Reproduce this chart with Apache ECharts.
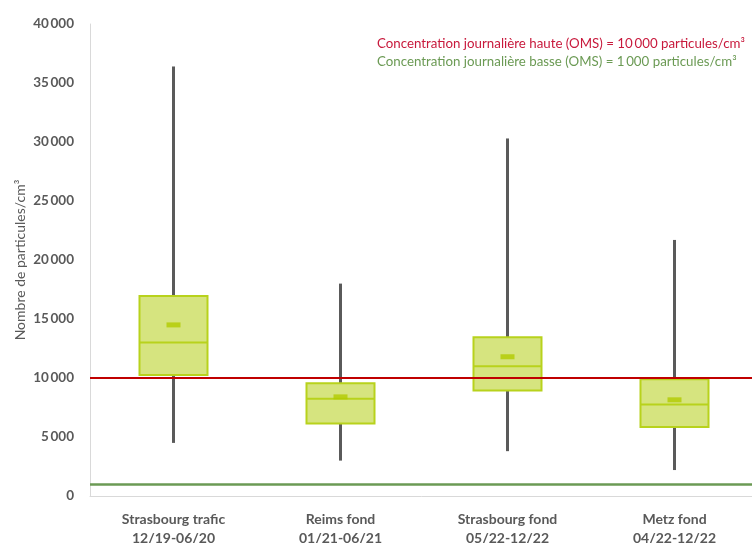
<!DOCTYPE html>
<html>
<head>
<meta charset="utf-8">
<script src="https://cdn.jsdelivr.net/npm/echarts@6/dist/echarts.min.js"></script>
<style>
  html, body { margin: 0; padding: 0; background: #fff; overflow: hidden; }
  #chart { width: 752px; height: 543px; }
</style>
</head>
<body>
<div id="chart"></div>
<script>
// Sites and measurement periods
const categories = [
  'Strasbourg trafic\n12/19-06/20',
  'Reims fond\n01/21-06/21',
  'Strasbourg fond\n05/22-12/22',
  'Metz fond\n04/22-12/22'
];
// Box statistics per site (particules/cm³)
const whiskerLow  = [4500, 3000, 3800, 2200];
const quartile1   = [10250, 6150, 8950, 5850];
const medians     = [13000, 8250, 11000, 7750];
const quartile3   = [16950, 9550, 13450, 9900];
const whiskerHigh = [36400, 18000, 30300, 21700];
const means       = [14500, 8400, 11800, 8150];
// WHO daily reference concentrations
const whoHigh = 10000;
const whoLow = 1000;
const yTicks = [0, 5000, 10000, 15000, 20000, 25000, 30000, 35000, 40000];

const FONT = 'Lato, "Open Sans", sans-serif';
const boxFill = '#d6e47f';
const boxLine = '#b8d21c';
const meanColor = '#b2cb00';
const whiskerColor = '#5a5a5a';

const boxRows = categories.map((c, i) => [i, whiskerLow[i], quartile1[i], medians[i], quartile3[i], whiskerHigh[i]]);

function fmt(v) {
  return String(v).replace(/\B(?=(\d{3})+(?!\d))/g, '\u2009');
}

const chart = echarts.init(document.getElementById('chart'), null, { renderer: 'canvas', width: 752, height: 543 });

chart.setOption({
  animation: false,
  backgroundColor: '#ffffff',
  textStyle: { fontFamily: FONT },
  grid: {
    left: 90, top: 24, width: 668, height: 472,
    containLabel: false, outerBoundsMode: 'none'
  },
  xAxis: {
    type: 'category',
    data: categories,
    axisLine: { show: true, lineStyle: { color: '#d9d9d9', width: 1 } },
    axisTick: { show: false },
    axisLabel: {
      color: '#595959', fontWeight: 'bold', fontSize: 14, lineHeight: 19,
      fontFamily: FONT, margin: 14, interval: 0
    },
    splitLine: { show: false }
  },
  yAxis: {
    type: 'value',
    min: yTicks[0],
    max: yTicks[yTicks.length - 1],
    interval: 5000,
    name: 'Nombre de particules/cm³',
    nameLocation: 'middle',
    nameGap: 63,
    nameMoveOverlap: false,
    nameRotate: 90,
    nameTextStyle: { color: '#595959', fontSize: 14, fontFamily: FONT },
    axisLine: { show: true, lineStyle: { color: '#d9d9d9', width: 1 } },
    axisTick: { show: false },
    splitLine: { show: false },
    axisLabel: {
      color: '#595959', fontWeight: 'bold', fontSize: 13.5, margin: 16,
      fontFamily: FONT, formatter: fmt
    }
  },
  series: [
    {
      // whiskers drawn first so the boxes sit over them
      type: 'custom',
      z: 2,
      data: boxRows,
      renderItem: function (params, api) {
        const x = api.value(0);
        const lo = api.coord([x, api.value(1)]);
        const q1 = api.coord([x, api.value(2)]);
        const q3 = api.coord([x, api.value(4)]);
        const hi = api.coord([x, api.value(5)]);
        const st = { stroke: whiskerColor, lineWidth: 3 };
        return {
          type: 'group',
          children: [
            { type: 'line', shape: { x1: lo[0], y1: lo[1], x2: q1[0], y2: q1[1] }, style: st },
            { type: 'line', shape: { x1: q3[0], y1: q3[1], x2: hi[0], y2: hi[1] }, style: st }
          ]
        };
      }
    },
    {
      type: 'custom',
      z: 3,
      data: boxRows,
      markLine: {
        silent: true,
        symbol: ['none', 'none'],
        label: { show: false },
        data: [
          { yAxis: whoHigh, lineStyle: { color: '#c00000', width: 2, type: 'solid' } },
          { yAxis: whoLow, lineStyle: { color: '#6b9a54', width: 2.5, type: 'solid' } }
        ]
      },
      renderItem: function (params, api) {
        const x = api.value(0);
        const q1 = api.coord([x, api.value(2)]);
        const med = api.coord([x, api.value(3)]);
        const q3 = api.coord([x, api.value(4)]);
        const w = 68;
        return {
          type: 'group',
          children: [
            {
              type: 'rect',
              shape: { x: q1[0] - w / 2, y: q3[1], width: w, height: q1[1] - q3[1] },
              style: { fill: boxFill, stroke: boxLine, lineWidth: 2 }
            },
            {
              type: 'line',
              shape: { x1: med[0] - w / 2, y1: med[1], x2: med[0] + w / 2, y2: med[1] },
              style: { stroke: boxLine, lineWidth: 2 }
            }
          ]
        };
      }
    },
    {
      type: 'scatter',
      z: 5,
      data: means.map((m, i) => [i, m]),
      symbol: 'rect',
      symbolSize: [14, 5],
      itemStyle: { color: meanColor }
    }
  ],
  graphic: [
    {
      type: 'text', left: 377, top: 37, z: 10,
      style: {
        text: 'Concentration journalière haute (OMS) = 10\u2009000 particules/cm³',
        fill: '#c8193c', font: '13.3px ' + FONT
      }
    },
    {
      type: 'text', left: 377, top: 55, z: 10,
      style: {
        text: 'Concentration journalière basse (OMS) = 1\u2009000 particules/cm³',
        fill: '#6b9a54', font: '13.3px ' + FONT
      }
    }
  ]
});
</script>
</body>
</html>
